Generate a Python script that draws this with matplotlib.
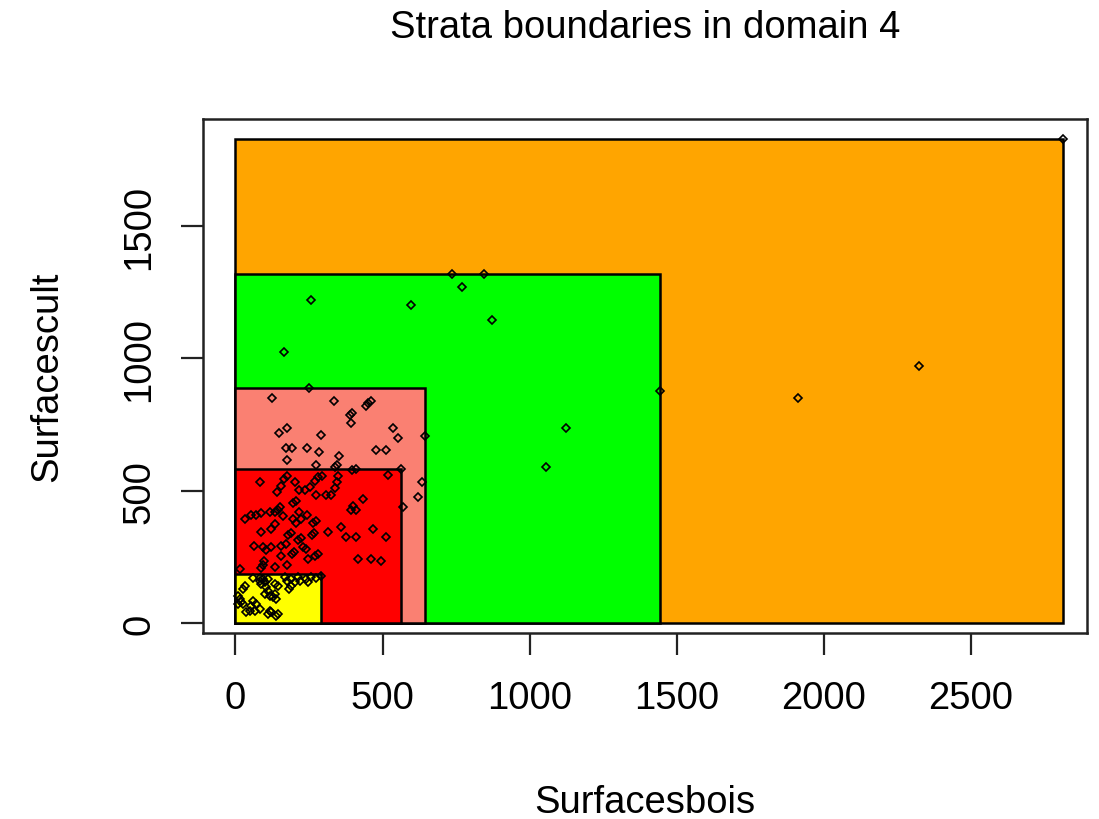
import matplotlib
matplotlib.use("Agg")
import matplotlib.pyplot as plt
from matplotlib.patches import Rectangle

plt.rcParams['font.family'] = ['Liberation Sans', 'DejaVu Sans']

title = "Strata boundaries in domain 4"
xlabel = "Surfacesbois"
ylabel = "Surfacescult"
xticks = [0, 500, 1000, 1500, 2000, 2500]
yticks = [0, 500, 1000, 1500]

# strata upper bounds (largest first drawn first)
strata_x = [2813, 1443, 644, 561, 292]
strata_y = [1827, 1318, 888, 582, 185]
strata_colors = ["#FFA500", "#00FF00", "#FA8072", "#FF0000", "#FFFF00"]

yellow_x = [59, 31, 25, 82, 93, 99, 88, 105, 110, 99, 116, 127, 133, 139, 133, 144, 167, 176, 190, 201,
            212, 218, 182, 190, 241, 246, 258, 275, 292, 8, 14, 20, 8, 25, 59, 54, 71, 82, 65, 48,
            37, 122, 110, 116, 139, 144, 82, 110]
yellow_y = [170, 141, 128, 160, 166, 154, 147, 135, 122, 110, 103, 97, 110, 91, 147, 141, 173, 160, 166, 154,
            173, 160, 128, 141, 166, 154, 173, 170, 178, 103, 91, 78, 72, 72, 84, 65, 72, 53, 47, 47,
            40, 40, 34, 47, 28, 34, 170, 166]

red_x = [82, 165, 175, 156, 141, 201, 215, 235, 252, 269, 280, 295, 348, 346, 337, 275, 309, 326, 196, 206,
         150, 135, 143, 116, 86, 71, 54, 31, 161, 195, 216, 224, 243, 207, 265, 273, 133, 122, 88, 180,
         188, 214, 222, 259, 267, 314, 360, 377, 173, 156, 122, 105, 63, 93, 191, 199, 241, 246, 271, 279,
         156, 97, 93, 133, 176, 14, 229, 88, 395, 410, 519, 561, 434, 400, 391, 410, 410, 468, 511, 417,
         459, 494]
red_y = [531, 545, 555, 519, 494, 531, 503, 503, 513, 538, 550, 557, 557, 531, 510, 484, 484, 484, 452, 460,
         440, 420, 428, 418, 414, 409, 409, 393, 406, 393, 418, 393, 409, 377, 376, 384, 374, 355, 343, 332,
         340, 313, 321, 332, 340, 343, 364, 326, 298, 292, 288, 276, 292, 286, 259, 267, 280, 242, 254, 262,
         254, 236, 219, 210, 219, 204, 288, 208, 578, 580, 560, 582, 469, 443, 428, 428, 326, 355, 326, 242,
         242, 233]

salmon_x = [123, 335, 442, 451, 460, 390, 395, 393, 250, 148, 175, 292, 536, 551, 644, 173, 191, 242, 284, 352,
            476, 510, 174, 275, 338, 346, 633, 619, 569]
salmon_y = [849, 839, 821, 831, 840, 786, 794, 756, 888, 717, 735, 710, 735, 698, 708, 661, 661, 661, 645, 632,
            654, 654, 617, 597, 588, 596, 531, 475, 439]

green_x = [737, 846, 771, 258, 595, 871, 166, 1443, 1123, 1055]
green_y = [1318, 1318, 1268, 1220, 1203, 1146, 1025, 878, 735, 588]

orange_x = [1913, 2324, 2813]
orange_y = [849, 970, 1827]

W, H = 1099, 820
fig = plt.figure(figsize=(W / 100, H / 100), dpi=100)
L, R, T, B = 203, 1087, 120, 634
ax = fig.add_axes([L / W, 1 - B / H, (R - L) / W, (B - T) / H])

x0px, xs = 235.5, 0.29424
y0px, ys = 624.0, 0.26467
ax.set_xlim((L - x0px) / xs, (R - x0px) / xs)
ax.set_ylim((y0px - B) / ys, (y0px - T) / ys)

for bx, by, c in zip(strata_x, strata_y, strata_colors):
    ax.add_patch(Rectangle((0, 0), bx, by, facecolor=c, edgecolor="black", linewidth=1.8, zorder=1))

all_x = yellow_x + red_x + salmon_x + green_x + orange_x
all_y = yellow_y + red_y + salmon_y + green_y + orange_y
ax.plot(all_x, all_y, linestyle="none", marker="D", markersize=4.0, markerfacecolor="none",
        markeredgecolor="black", markeredgewidth=1.2, zorder=3)

for s in ax.spines.values():
    s.set_linewidth(1.8)
    s.set_color("#222222")

fs = 27.5
ax.set_xticks(xticks)
ax.set_yticks(yticks)
ax.set_xticklabels([str(v) for v in xticks], fontsize=fs)
ax.set_yticklabels([str(v) for v in yticks], fontsize=fs, rotation=90, va="center")
ax.tick_params(axis="both", direction="out", length=16, width=1.6, color="#222222")
ax.tick_params(axis="x", pad=18)
ax.tick_params(axis="y", pad=17)

fig.text(645 / W, 1 - 38 / H, title, ha="center", va="baseline", fontsize=fs)
fig.text(645 / W, 1 - 813 / H, xlabel, ha="center", va="baseline", fontsize=fs)
fig.text(57 / W, 1 - 377 / H, ylabel, ha="center", va="baseline", fontsize=fs,
         rotation=90, rotation_mode="anchor")

fig.savefig("out.png", dpi=100)
